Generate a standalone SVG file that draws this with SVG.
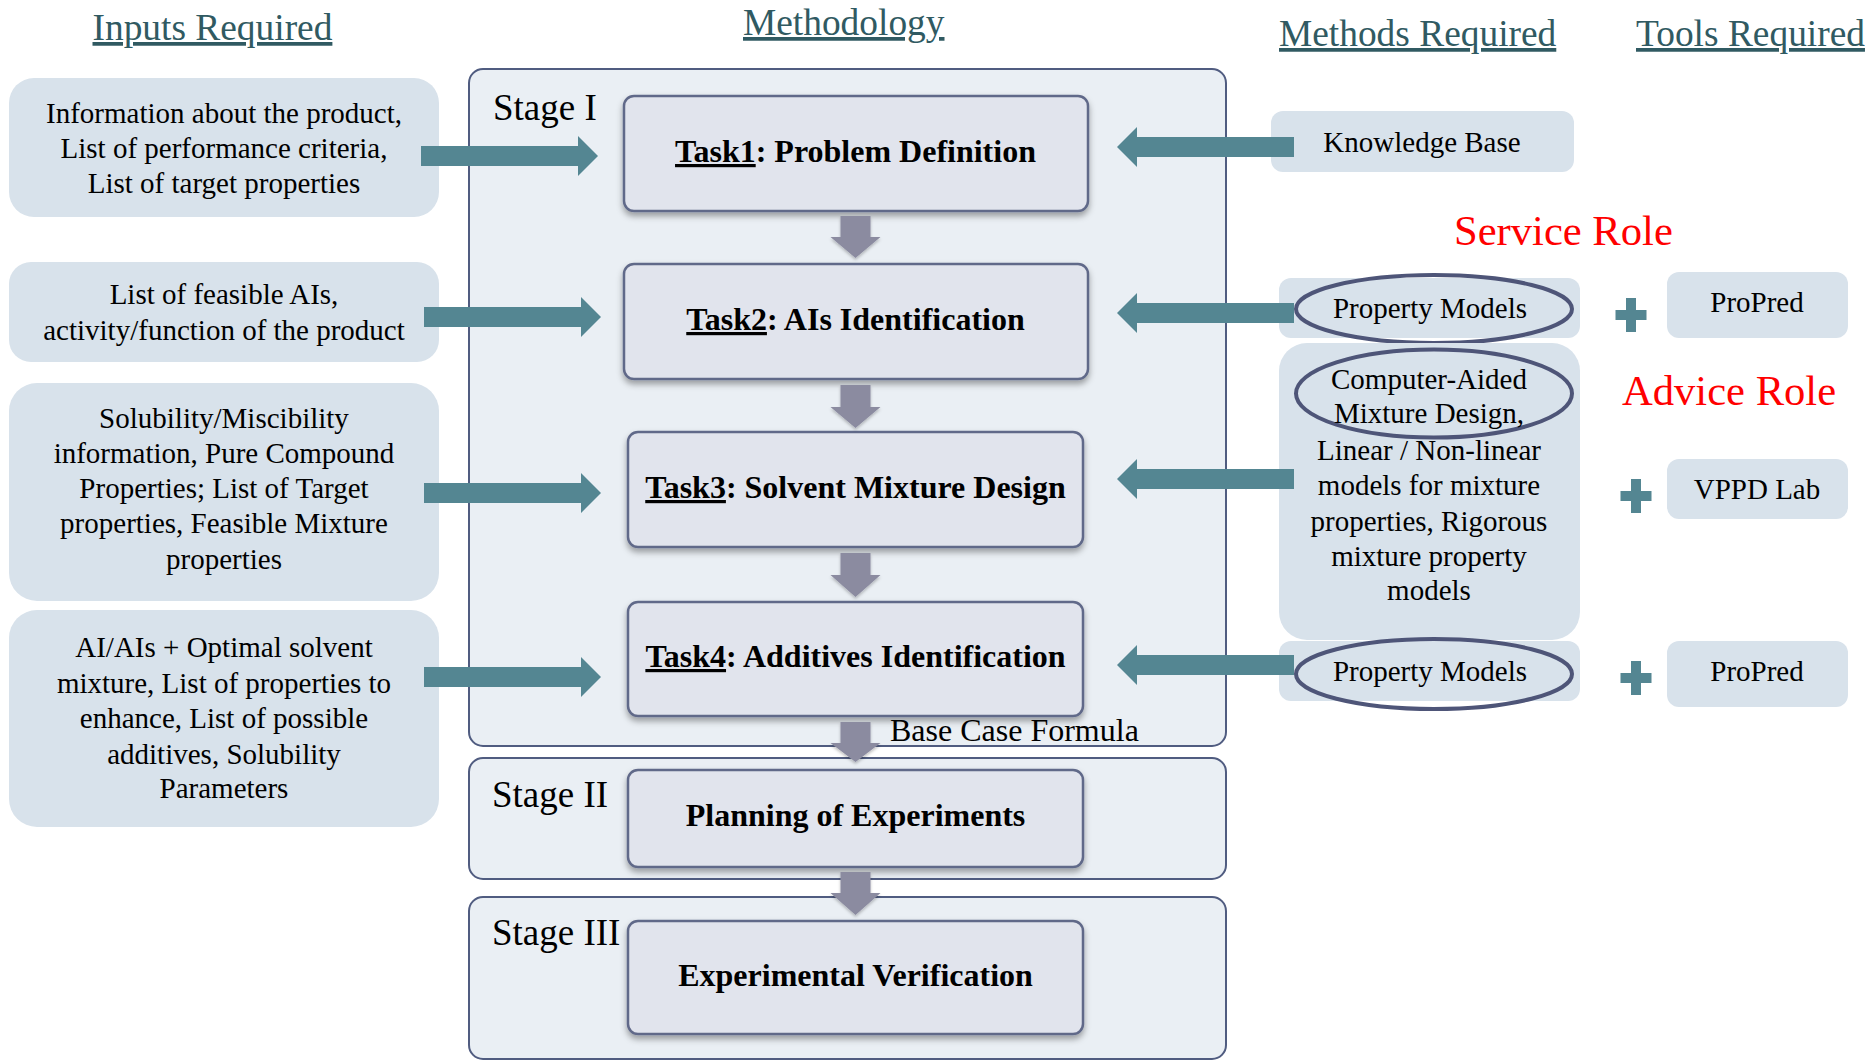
<svg xmlns="http://www.w3.org/2000/svg" width="1868" height="1061" viewBox="0 0 1868 1061">
<style>
text{font-family:"Liberation Serif","Times New Roman",serif;fill:#000}
.title{font-size:37.4px;fill:#305a62;text-decoration:underline}
.in{font-size:29px;text-anchor:middle}
.m{font-size:29px;text-anchor:middle}
.stage{font-size:37px}
.task{font-size:32px;font-weight:bold;text-anchor:middle}
.u{text-decoration:underline}
.role{font-size:42.6px;fill:#ff0000}
.ibox{fill:#d8e2eb}
.sbox{fill:#eaeff4;stroke:#505c80;stroke-width:2}
.tbox{fill:#e1e4ed;stroke:#616989;stroke-width:2.5;filter:url(#sh)}
.ell{fill:none;stroke:#4e5578;stroke-width:4}
.teal{fill:#548692}
.gray{fill:#8b8ba0;filter:url(#sh2)}
.bcf{font-size:32px}
</style>
<defs>
<filter id="sh" x="-10%" y="-10%" width="120%" height="130%">
<feDropShadow dx="0" dy="4" stdDeviation="3" flood-color="#000" flood-opacity="0.35"/>
</filter>
<filter id="sh2" x="-20%" y="-20%" width="140%" height="150%">
<feDropShadow dx="0" dy="2" stdDeviation="1.5" flood-color="#000" flood-opacity="0.25"/>
</filter>
</defs>
<rect width="1868" height="1061" fill="#fff"/>

<g id="titles">
<text class="title" x="92.5" y="40">Inputs Required</text>
<text class="title" x="743" y="35">Methodology</text>
<text class="title" x="1279" y="46">Methods Required</text>
<text class="title" x="1636" y="46">Tools Required</text>
</g>

<g id="stage1"><rect class="sbox" x="469" y="69" width="757" height="677" rx="14"/><text class="stage" x="493" y="120">Stage I</text></g>
<g id="stage2"><rect class="sbox" x="469" y="758" width="757" height="121" rx="14"/><text class="stage" x="492" y="807">Stage II</text></g>
<g id="stage3"><rect class="sbox" x="469" y="897" width="757" height="162" rx="14"/><text class="stage" x="492" y="945">Stage III</text></g>

<g id="input1"><rect class="ibox" x="9" y="78" width="430" height="139" rx="25"/>
<text class="in" x="224" y="123">Information about the product,</text>
<text class="in" x="224" y="158">List of performance criteria,</text>
<text class="in" x="224" y="193">List of target properties</text></g>
<g id="input2"><rect class="ibox" x="9" y="262" width="430" height="100" rx="22"/>
<text class="in" x="224" y="304">List of feasible AIs,</text>
<text class="in" x="224" y="340">activity/function of the product</text></g>
<g id="input3"><rect class="ibox" x="9" y="383" width="430" height="218" rx="28"/>
<text class="in" x="224" y="428">Solubility/Miscibility</text>
<text class="in" x="224" y="463">information, Pure Compound</text>
<text class="in" x="224" y="498">Properties; List of Target</text>
<text class="in" x="224" y="533">properties, Feasible Mixture</text>
<text class="in" x="224" y="569">properties</text></g>
<g id="input4"><rect class="ibox" x="9" y="610" width="430" height="217" rx="28"/>
<text class="in" x="224" y="657">AI/AIs + Optimal solvent</text>
<text class="in" x="224" y="693">mixture, List of properties to</text>
<text class="in" x="224" y="728">enhance, List of possible</text>
<text class="in" x="224" y="764">additives, Solubility</text>
<text class="in" x="224" y="798">Parameters</text></g>

<g id="task1"><rect class="tbox" x="624" y="96" width="464" height="115" rx="10"/>
<text class="task" x="855.5" y="162"><tspan class="u">Task1</tspan>: Problem Definition</text></g>
<g id="task2"><rect class="tbox" x="624" y="264" width="464" height="115" rx="10"/>
<text class="task" x="855.5" y="330"><tspan class="u">Task2</tspan>: AIs Identification</text></g>
<g id="task3"><rect class="tbox" x="628" y="432" width="455" height="115" rx="10"/>
<text class="task" x="855.5" y="498"><tspan class="u">Task3</tspan>: Solvent Mixture Design</text></g>
<g id="task4"><rect class="tbox" x="628" y="602" width="455" height="114" rx="10"/>
<text class="task" x="855.5" y="667"><tspan class="u">Task4</tspan>: Additives Identification</text></g>
<g id="planning"><rect class="tbox" x="628" y="770" width="455" height="97" rx="10"/>
<text class="task" x="855.5" y="826">Planning of Experiments</text></g>
<g id="verification"><rect class="tbox" x="628" y="921" width="455" height="113" rx="10"/>
<text class="task" x="855.5" y="986">Experimental Verification</text></g>

<g id="kb"><rect class="ibox" x="1271" y="111" width="303" height="61" rx="12"/>
<text class="m" x="1422" y="152">Knowledge Base</text></g>
<g id="pm1"><rect class="ibox" x="1279" y="278" width="301" height="60" rx="12"/>
<ellipse class="ell" cx="1434" cy="309" rx="138" ry="34"/>
<text class="m" x="1430" y="318">Property Models</text></g>
<g id="camd"><rect class="ibox" x="1279" y="343" width="301" height="297" rx="28"/>
<ellipse class="ell" cx="1434" cy="393.5" rx="138" ry="44"/>
<text class="m" x="1429" y="389">Computer-Aided</text>
<text class="m" x="1429" y="423">Mixture Design,</text>
<text class="m" x="1429" y="460">Linear / Non-linear</text>
<text class="m" x="1429" y="495">models for mixture</text>
<text class="m" x="1429" y="531">properties, Rigorous</text>
<text class="m" x="1429" y="566">mixture property</text>
<text class="m" x="1429" y="600">models</text></g>
<g id="pm2"><rect class="ibox" x="1279" y="641" width="301" height="60" rx="12"/>
<ellipse class="ell" cx="1434" cy="674" rx="138" ry="35"/>
<text class="m" x="1430" y="681">Property Models</text></g>

<g id="propred1"><rect class="ibox" x="1667" y="272" width="181" height="66" rx="12"/>
<text class="m" x="1757" y="312">ProPred</text></g>
<g id="vppd"><rect class="ibox" x="1667" y="459" width="181" height="60" rx="12"/>
<text class="m" x="1757" y="499">VPPD Lab</text></g>
<g id="propred2"><rect class="ibox" x="1667" y="641" width="181" height="66" rx="12"/>
<text class="m" x="1757" y="681">ProPred</text></g>

<g id="roles">
<text class="role" x="1454" y="245">Service Role</text>
<text class="role" x="1622" y="405">Advice Role</text>
</g>

<g id="plus">
<g class="teal"><rect x="1615.5" y="310" width="31" height="10"/><rect x="1626" y="298" width="10" height="34"/></g>
<g class="teal"><rect x="1620.5" y="491" width="31" height="10"/><rect x="1631" y="479" width="10" height="34"/></g>
<g class="teal"><rect x="1620.5" y="673" width="31" height="10"/><rect x="1631" y="661" width="10" height="34"/></g>
</g>

<g id="connectors">
<polygon class="teal" points="421,146 578,146 578,136 598,156 578,176 578,166 421,166"/>
<polygon class="teal" points="424,307 581,307 581,297 601,317 581,337 581,327 424,327"/>
<polygon class="teal" points="424,483 581,483 581,473 601,493 581,513 581,503 424,503"/>
<polygon class="teal" points="424,667 581,667 581,657 601,677 581,697 581,687 424,687"/>
<polygon class="teal" points="1294,137 1137,137 1137,127 1117,147 1137,167 1137,157 1294,157"/>
<polygon class="teal" points="1294,303 1137,303 1137,293 1117,313 1137,333 1137,323 1294,323"/>
<polygon class="teal" points="1294,469 1137,469 1137,459 1117,479 1137,499 1137,489 1294,489"/>
<polygon class="teal" points="1294,655 1137,655 1137,645 1117,665 1137,685 1137,675 1294,675"/>
<polygon class="gray" points="840.5,216 870.5,216 870.5,237 880.5,237 855.5,258 830.5,237 840.5,237"/>
<polygon class="gray" points="840.5,385 870.5,385 870.5,407 880.5,407 855.5,428 830.5,407 840.5,407"/>
<polygon class="gray" points="840.5,553 870.5,553 870.5,575 880.5,575 855.5,597 830.5,575 840.5,575"/>
<polygon class="gray" points="840.5,722 870.5,722 870.5,743 880.5,743 855.5,762 830.5,743 840.5,743"/>
<polygon class="gray" points="840.5,872 870.5,872 870.5,893 880.5,893 855.5,915 830.5,893 840.5,893"/>
<text class="bcf" x="890" y="741">Base Case Formula</text>
</g>
</svg>
